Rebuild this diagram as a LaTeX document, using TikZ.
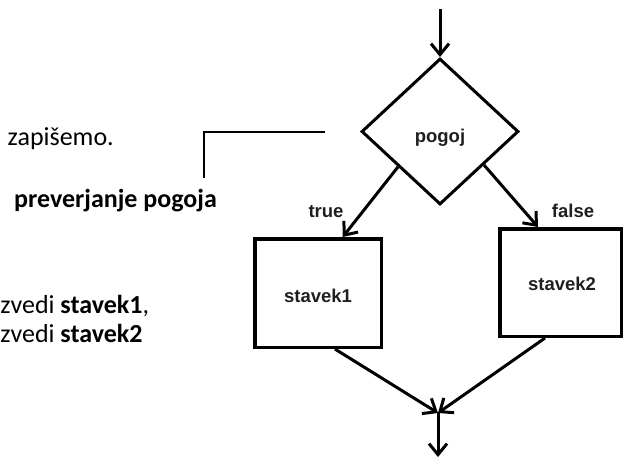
\documentclass[tikz,border=0pt]{standalone}
\usepackage{fontspec}
\setmainfont{Carlito}
\newfontfamily\fcarial{Liberation Sans}
\usetikzlibrary{shapes.geometric,arrows.meta,calc}
\begin{document}
\begin{tikzpicture}[x=1pt,y=-1pt,
  flow/.style={line width=3pt},
  arr/.style={flow,-{Straight Barb[length=11pt,width=18pt]}},
  fctext/.style={font=\fcarial\bfseries\fontsize{18.5}{20}\selectfont, text=black!88, inner sep=0pt},
  side/.style={font=\fontsize{26}{30}\selectfont, anchor=base west, inner sep=0pt},
  stmt/.style={draw, line width=3.5pt, inner sep=0pt}
]
\useasboundingbox (0,0) rectangle (626,458);
\clip (0,0) rectangle (626,458);

% side text
\node[side] (t1) at (7.5,145) {zapišemo.};
\node[side, font=\bfseries\fontsize{26}{30}\selectfont] (t2) at (14,207) {preverjanje pogoja};
\node[side] (t3) at (0.3,313) {zvedi \textbf{stavek1},};
\node[side] (t4) at (0.3,342) {zvedi \textbf{stavek2}};

% bracket
\coordinate (bra) at (325,132);
\coordinate (brb) at (204,178);
\draw[line width=1.5pt] (bra) -| (brb);

% flowchart
\node[diamond, draw, flow, minimum width=157pt, minimum height=146pt, inner sep=0pt, aspect=1.07] (pg) at (440,131.5) {};
\node[fctext, anchor=base] (pgl) at (440,142) {pogoj};

\node[stmt, minimum width=126.5pt, minimum height=108.5pt] (b1) at (318,293) {};
\node[fctext, anchor=base] (s1) at (318,302) {stavek1};
\node[stmt, minimum width=121.5pt, minimum height=107.5pt] (b2) at (560.5,282.5) {};
\node[fctext, anchor=base] (s2) at (562,290) {stavek2};

\node[fctext, anchor=base] (lt) at (326,217) {true};
\node[fctext, anchor=base] (lf) at (573,217) {false};

\coordinate (top) at (440,9);
\coordinate (m) at (438,413);
\coordinate (end) at (438,457);

\draw[arr] (top) -- (pg.north);
\draw[arr] ($(pg.west)!0.475!(pg.south)$) -- ($(b1.north west)!0.69!(b1.north east)$);
\draw[arr] ($(pg.east)!0.45!(pg.south)$) -- ($(b2.north west)!0.32!(b2.north east)$);
\draw[arr] ($(b1.south west)!0.63!(b1.south east)$) -- (m);
\draw[arr] ($(b2.south west)!0.376!(b2.south east)$) -- (m);
\draw[arr] (m) -- (end);
\end{tikzpicture}
\end{document}
